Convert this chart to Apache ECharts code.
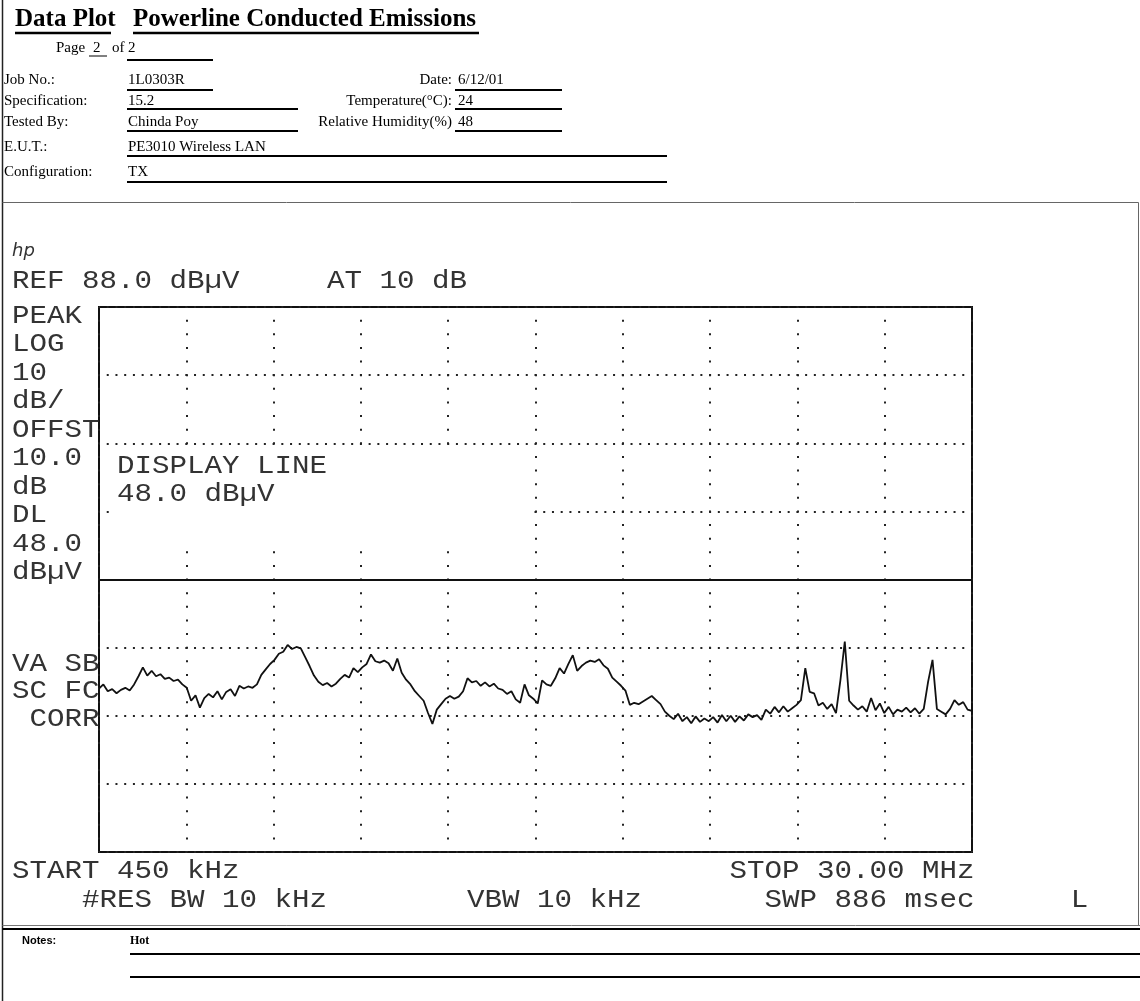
<!DOCTYPE html>
<html>
<head>
<meta charset="utf-8">
<title>Data Plot - Powerline Conducted Emissions</title>
<script src="https://cdn.jsdelivr.net/npm/echarts@6/dist/echarts.min.js"></script>
<style>
  html, body { margin: 0; padding: 0; background: #fff; }
  #chart { width: 1140px; height: 1001px; }
</style>
</head>
<body>
<div id="chart"></div>
<script>
// Sweep settings of the analyzer
const START_MHZ = 0.45;
const STOP_MHZ = 30.0;
const REF_LEVEL_DBUV = 88;
const DB_PER_DIV = 10;
const DIVS_X = 10;
const DIVS_Y = 8;
const DISPLAY_LINE_DBUV = 48;

// Peak trace, evenly spaced sweep points from START to STOP (dBµV)
const traceDbuv = [
  32.0,32.6,31.6,31.9,31.3,31.8,32.1,31.7,32.6,33.8,
  35.1,33.9,34.6,33.8,34.1,33.4,33.6,33.1,33.3,32.6,
  32.1,30.2,31.0,29.2,30.6,31.2,30.7,31.6,30.4,31.5,
  31.9,30.9,32.4,32.0,32.3,32.1,32.6,34.0,34.8,35.6,
  36.2,37.1,37.4,38.4,37.8,38.1,37.9,36.6,35.3,33.9,
  33.0,32.5,32.8,32.3,32.7,33.4,34.0,33.6,35.0,34.4,
  35.1,35.6,37.0,36.0,35.8,36.1,35.7,34.6,36.4,34.3,
  33.3,32.6,31.6,30.9,30.2,28.4,26.8,28.9,29.7,30.5,
  30.9,30.5,30.8,31.6,33.5,32.9,33.1,32.4,32.9,32.3,
  32.7,32.0,31.8,31.2,31.6,30.4,29.9,32.6,31.0,30.5,
  29.8,33.2,32.6,32.4,33.5,35.0,34.2,35.6,36.9,34.6,
  35.3,35.8,36.1,35.9,36.3,35.4,34.9,33.6,33.0,32.4,
  31.7,29.6,29.9,29.7,30.1,30.5,30.9,30.3,29.7,28.6,
  28.0,27.5,28.3,27.2,27.8,26.9,27.9,27.1,27.6,27.2,
  27.8,27.0,28.1,27.2,28.0,27.1,27.9,27.3,28.2,27.8,
  28.1,27.4,28.9,28.3,29.3,28.5,29.4,28.6,29.1,29.6,
  30.3,35.0,31.5,31.3,29.5,29.9,29.0,29.7,28.4,33.2,
  38.9,30.2,29.5,28.9,29.4,28.6,30.6,28.8,29.8,28.4,
  29.3,28.2,28.9,28.6,29.2,28.5,29.1,28.3,29.0,33.0,
  36.2,29.0,28.6,28.2,29.0,30.3,29.6,30.0,28.9,28.7
];

// Form header fields
const headerLabels = ['Job No.:', 'Specification:', 'Tested By:', 'E.U.T.:', 'Configuration:'];
const headerValues = ['1L0303R', '15.2', 'Chinda Poy', 'PE3010 Wireless LAN', 'TX'];
const sideLabels = ['Date:', 'Temperature(°C):', 'Relative Humidity(%)'];
const sideValues = ['6/12/01', '24', '48'];
const pageNo = '2';
const pageCount = '2';
const notesText = 'Hot';

// Analyzer annotation text
const leftAnnot = ['PEAK', 'LOG', '10', 'dB/', 'OFFST', '10.0', 'dB', 'DL', '48.0', 'dBµV'];
const lowerAnnot = ['VA SB', 'SC FC', ' CORR'];
const refText = 'REF 88.0 dBµV';
const attText = 'AT 10 dB';
const displayLineText = ['DISPLAY LINE', '48.0 dBµV'];
const startText = 'START 450 kHz';
const stopText = 'STOP 30.00 MHz';
const rbwText = '#RES BW 10 kHz';
const vbwText = 'VBW 10 kHz';
const swpText = 'SWP 886 msec';

// ---- layout ----
const GRID = { left: 99, top: 307, width: 873, height: 545 };
const CHAR_W = 17.5;          // analyzer character pitch
const HP_X0 = 12;
const HP_FONT = 25;
const HP_SCALE = CHAR_W / (HP_FONT * 0.6);
const HP_COLOR = '#333';

const traceData = traceDbuv.map((v, i) => [
  START_MHZ + i * (STOP_MHZ - START_MHZ) / (traceDbuv.length - 1), v
]);

const g = [];
function hpText(str, col, yc) {
  g.push({
    type: 'text', x: HP_X0 + col * CHAR_W, y: yc, scaleX: HP_SCALE, z: 60,
    style: {
      text: str, fontFamily: 'Liberation Mono', fontSize: HP_FONT,
      fill: HP_COLOR, align: 'left', verticalAlign: 'middle',
      textAlign: 'left', textVerticalAlign: 'middle'
    }
  });
}
function serif(str, x, yc, opts) {
  opts = opts || {};
  g.push({
    type: 'text', x: x, y: yc, z: 60,
    style: {
      text: str, fontFamily: opts.family || 'Liberation Serif',
      fontSize: opts.size || 15, fontWeight: opts.weight || 'normal',
      fill: '#000', align: opts.align || 'left', verticalAlign: 'middle',
      textAlign: opts.align || 'left', textVerticalAlign: 'middle'
    }
  });
}
function rule(x1, y1, x2, y2, w, color) {
  g.push({
    type: 'line', z: 55, shape: { x1: x1, y1: y1, x2: x2, y2: y2 },
    style: { stroke: color || '#000', lineWidth: w || 2 }
  });
}

// ---- header form ----
serif('Data Plot', 15, 20, { size: 25, weight: 'bold' });
serif('Powerline Conducted Emissions', 133, 20, { size: 25, weight: 'bold' });
rule(15, 33, 111, 33, 2.5);
rule(133, 33, 479, 33, 2.5);

serif('Page', 56, 48);
serif(pageNo, 93, 48);
rule(89, 56, 107, 56, 1);
serif('of', 112, 48);
serif(pageCount, 128, 48);
rule(127, 60, 213, 60, 2);

const rowY = [80, 101, 122, 147, 172];
const ruleY = [90, 109, 131, 156, 182];
const valueRuleEnd = [213, 298, 298, 667, 667];
headerLabels.forEach((t, i) => {
  serif(t, 4, rowY[i]);
  serif(headerValues[i], 128, rowY[i]);
  rule(127, ruleY[i], valueRuleEnd[i], ruleY[i], 2);
});
sideLabels.forEach((t, i) => {
  serif(t, 452, rowY[i], { align: 'right' });
  serif(sideValues[i], 458, rowY[i]);
  rule(455, ruleY[i], 562, ruleY[i], 2);
});

// ---- page borders ----
rule(2.5, 0, 2.5, 1001, 1.5, '#222');
rule(2.5, 202.5, 1138.5, 202.5, 1, '#666');
rule(1138.5, 202.5, 1138.5, 925.5, 1, '#666');
rule(2.5, 925.5, 1140, 925.5, 1, '#777');
rule(2.5, 929, 1140, 929, 2, '#000');

// ---- analyzer annotations ----
g.push({
  type: 'text', x: 12, y: 251, z: 60,
  style: {
    text: 'hp', fontFamily: 'DejaVu Sans', fontStyle: 'italic', fontSize: 18,
    fill: HP_COLOR, align: 'left', verticalAlign: 'middle',
    textAlign: 'left', textVerticalAlign: 'middle'
  }
});
hpText(refText, 0, 281);
hpText(attText, 18, 281);
leftAnnot.forEach((t, i) => hpText(t, 0, 316 + i * 28.5));
lowerAnnot.forEach((t, i) => hpText(t, 0, 664 + i * 27.5));

// blank panel behind the display-line readout
g.push({
  type: 'rect', z: 50, shape: { x: 110, y: 446, width: 422, height: 98 },
  style: { fill: '#fff' }
});
displayLineText.forEach((t, i) => hpText(t, 6, 466 + i * 28.5));

hpText(startText, 0, 871);
hpText(stopText, 41, 871);
hpText(rbwText, 4, 900);
hpText(vbwText, 26, 900);
hpText(swpText, 43, 900);
hpText('L', 60.5, 900);

// ---- notes ----
serif('Notes:', 22, 941, { family: 'Liberation Sans', size: 11, weight: 'bold' });
serif(notesText, 130, 941, { size: 12, weight: 'bold' });
rule(130, 954, 1140, 954, 2);
rule(130, 977, 1140, 977, 2);

const chart = echarts.init(document.getElementById('chart'), null, { renderer: 'canvas' });
chart.setOption({
  backgroundColor: '#fff',
  animation: false,
  grid: {
    left: GRID.left, top: GRID.top, width: GRID.width, height: GRID.height,
    show: true, borderColor: '#111', borderWidth: 2, backgroundColor: 'transparent'
  },
  xAxis: [
    { type: 'value', min: START_MHZ, max: STOP_MHZ, show: false },
    {
      type: 'value', min: 0, max: DIVS_X, interval: 1, position: 'top',
      axisLine: { show: false }, axisTick: { show: false }, axisLabel: { show: false },
      splitLine: { show: true, lineStyle: { color: '#222', width: 2, type: [2, GRID.height / DIVS_Y / 5 - 2], dashOffset: 1 } }
    }
  ],
  yAxis: [
    { type: 'value', min: REF_LEVEL_DBUV - DB_PER_DIV * DIVS_Y, max: REF_LEVEL_DBUV, show: false },
    {
      type: 'value', min: 0, max: DIVS_Y, interval: 1, position: 'right',
      axisLine: { show: false }, axisTick: { show: false }, axisLabel: { show: false },
      splitLine: { show: true, lineStyle: { color: '#222', width: 2, type: [2, GRID.width / DIVS_X / 10 - 2], dashOffset: 1 } }
    }
  ],
  series: [{
    type: 'line',
    xAxisIndex: 0, yAxisIndex: 0,
    data: traceData,
    showSymbol: false,
    z: 10,
    lineStyle: { color: '#111', width: 1.8 },
    markLine: {
      silent: true, symbol: 'none', label: { show: false },
      lineStyle: { color: '#111', width: 2, type: 'solid' },
      data: [{ yAxis: DISPLAY_LINE_DBUV }]
    }
  }],
  graphic: { elements: g }
});
</script>
</body>
</html>
